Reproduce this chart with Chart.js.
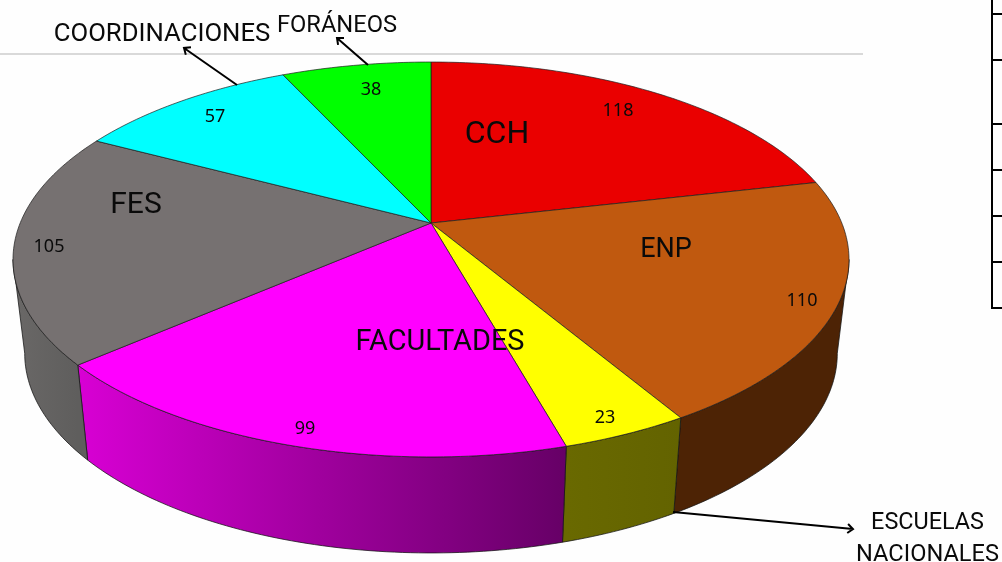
<!DOCTYPE html>
<html><head><meta charset="utf-8">
<style>html,body{margin:0;padding:0;background:#fefefe;overflow:hidden}canvas{display:block}</style>
<script src="https://cdn.jsdelivr.net/npm/chart.js@4"></script></head>
<body><canvas id="c" width="1002" height="562"></canvas>
<script>
const categories = ["CCH","ENP","ESCUELAS NACIONALES","FACULTADES","FES","COORDINACIONES","FORÁNEOS"];
const values = [118,110,23,99,105,57,38];
const topColors = ["#ea0000","#c0590f","#ffff00","#ff00ff","#767171","#00ffff","#00ff00"];
const wallColorsFrom = ["#000","#4d2305","#696900","#d800d4","#6a6867","#000","#000"];
const wallColorsTo = ["#000","#4d2305","#636300","#660066","#5f5e5d","#000","#000"];
const valueLabelAt = [[618,111],[802,301],[605,418],[305,429],[49,247],[215,117],[371,90]];
const nameLabels = [
  {t:"CCH",x:497,y:135,s:32},{t:"ENP",x:666,y:250,s:27},{t:"FACULTADES",x:440,y:343,s:28.9},
  {t:"FES",x:136,y:205,s:30},{t:"COORDINACIONES",x:162,y:35,s:25.7},{t:"FORÁNEOS",x:337,y:26,s:23.7},
  {t:"ESCUELAS",x:927.5,y:523,s:23.4},{t:"NACIONALES",x:927.5,y:555,s:23.6}];
const arrows = [[237,85,184,48],[368,65,337,38],[673,512,853,529]];
const tableRows = [14,60,124,170,216,262,308];

const cx=431, c=-0.1848, a=149.5, b=223, k=410.8, silhouette=100.65*Math.PI/180;
function proj(t,r,low){
  const u=r*Math.sin(t), v=-r*Math.cos(t), d=1+c*v;
  let x=k*u/d, y=(a*v+b)/d;
  if(low){ x*=0.972; y=y+95+0.0107*(y-364); }
  return [cx+x,y];
}
function arcPath(g,t0,t1,low,first){
  const n=Math.max(2,Math.ceil(Math.abs(t1-t0)*60));
  for(let i=0;i<=n;i++){
    const p=proj(t0+(t1-t0)*i/n,1,low);
    if(i===0&&first) g.moveTo(p[0],p[1]); else g.lineTo(p[0],p[1]);
  }
}
const pie3d={
  id:'pie3d',
  beforeDatasetDraw(chart,args){
    const g=chart.ctx, arcs=chart.getDatasetMeta(args.index).data;
    g.save();
    g.strokeStyle='#d9d9d9'; g.lineWidth=2;
    g.beginPath(); g.moveTo(0,54); g.lineTo(863,54); g.stroke();
    g.strokeStyle='#000'; g.lineWidth=2;
    g.beginPath(); g.moveTo(992,0); g.lineTo(992,308);
    tableRows.forEach(y=>{g.moveTo(991,y);g.lineTo(1002,y);}); g.stroke();
    arcs.forEach((el,i)=>{
      const t0=Math.max(el.startAngle+Math.PI/2,silhouette), t1=Math.min(el.endAngle+Math.PI/2,2*Math.PI-silhouette);
      if(t1<=t0) return;
      const p0=proj(t0,1,false), p1=proj(t1,1,false);
      const gr=g.createLinearGradient(Math.max(p0[0],p1[0]),0,Math.min(p0[0],p1[0]),0);
      gr.addColorStop(0,wallColorsTo[i]); gr.addColorStop(1,wallColorsFrom[i]);
      g.fillStyle=gr; g.beginPath();
      arcPath(g,t0,t1,false,true); arcPath(g,t1,t0,true,false); g.closePath(); g.fill();
      g.strokeStyle='rgba(20,20,20,.75)'; g.lineWidth=1; g.stroke();
    });
    arcs.forEach((el,i)=>{
      const t0=el.startAngle+Math.PI/2, t1=el.endAngle+Math.PI/2;
      g.fillStyle=el.options.backgroundColor;
      g.beginPath(); g.moveTo(cx,b); arcPath(g,t0,t1,false,false); g.closePath(); g.fill();
      g.strokeStyle='rgba(30,30,30,.7)'; g.lineWidth=1; g.stroke();
    });
    g.restore();
    return false;
  },
  afterDatasetsDraw(chart){
    const g=chart.ctx; g.save();
    g.textAlign='center'; g.textBaseline='middle'; g.fillStyle='#0a0a0a';
    g.font='18px "Noto Sans"';
    values.forEach((v,i)=>g.fillText(String(v),valueLabelAt[i][0],valueLabelAt[i][1]));
    nameLabels.forEach(l=>{g.font=l.s+'px Roboto'; g.fillText(l.t,l.x,l.y);});
    g.strokeStyle='#000'; g.lineWidth=2;
    arrows.forEach(([x0,y0,x1,y1])=>{
      const an=Math.atan2(y1-y0,x1-x0), h=7;
      g.beginPath(); g.moveTo(x0,y0); g.lineTo(x1,y1);
      g.moveTo(x1-h*Math.cos(an-.7),y1-h*Math.sin(an-.7)); g.lineTo(x1,y1);
      g.lineTo(x1-h*Math.cos(an+.7),y1-h*Math.sin(an+.7)); g.stroke();
    });
    g.restore();
  }
};
new Chart(document.getElementById('c'),{
  type:'pie',
  data:{labels:categories,datasets:[{data:values,backgroundColor:topColors,borderWidth:0}]},
  options:{responsive:false,animation:false,rotation:0,
    plugins:{legend:{display:false},tooltip:{enabled:false}}},
  plugins:[pie3d]
});
</script></body></html>
